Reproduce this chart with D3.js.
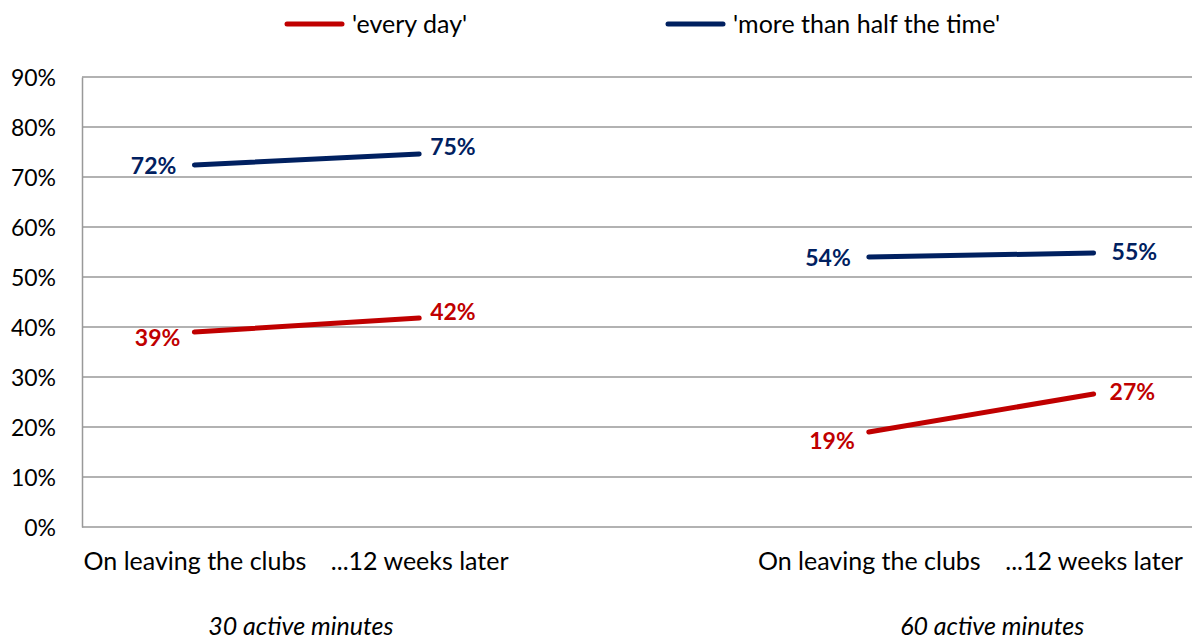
<!DOCTYPE html>
<html><head><meta charset="utf-8">
<script src="https://cdn.jsdelivr.net/npm/d3@7"></script>
<style>
html,body{margin:0;padding:0;background:#fff;}
svg{display:block;font-family:Lato,"Open Sans",sans-serif;}
</style></head>
<body><svg id="c" width="1192" height="639"></svg>
<script>
// ---- data ----
const categories = ["On leaving the clubs", "...12 weeks later", "", "On leaving the clubs", "...12 weeks later"];
const groups = ["30 active minutes", "60 active minutes"];
const seriesNames = ["'every day'", "'more than half the time'"];
// each series: [group1 start, group1 end, group2 start, group2 end]
const everyDay = [39.0, 41.8, 19.0, 26.6];
const moreThanHalf = [72.4, 74.6, 54.0, 54.8];
const yTicks = [0, 10, 20, 30, 40, 50, 60, 70, 80, 90];
const seriesColors = ["#C00000", "#002060"];

(function(){
// ---- layout ----
const svg = d3.select("#c");
const mLeft = 82, mTop = 77, mBottom = 527;
const x = d3.scalePoint().domain(d3.range(categories.length)).range([mLeft, 1206]).padding(0.5);
const y = d3.scaleLinear().domain([0, 90]).range([mBottom, mTop]);
const fs = 23, fsText = 25;

// gridlines
svg.append("g").selectAll("line").data(yTicks).join("line")
  .attr("x1", mLeft).attr("x2", 1192)
  .attr("y1", d => y(d)).attr("y2", d => y(d))
  .attr("stroke", "#999").attr("stroke-width", 1.5);

// y axis
const yAxis = d3.axisLeft(y).tickValues(yTicks).tickSize(0).tickPadding(0).tickFormat(d => d + "%");
const ya = svg.append("g").attr("transform", `translate(${mLeft},0)`).call(yAxis);
ya.select(".domain").attr("stroke", "#999").attr("stroke-width", 1.5);
ya.selectAll("text").attr("x", -26).attr("dy", "0.35em").attr("font-size", fs)
  .attr("font-family", "Lato").attr("fill", "#000");

// x axis labels
const xAxis = d3.axisBottom(x).tickSize(0).tickFormat(i => categories[i]);
const xa = svg.append("g").attr("transform", `translate(0,${mBottom})`).call(xAxis);
xa.select(".domain").remove();
xa.selectAll("text").attr("y", 25).attr("dy", "0.71em").attr("font-size", fsText)
  .attr("font-family", "Lato").attr("fill", "#000");

// group labels
const groupIdx = [[0, 1], [3, 4]];
const groupShift = [-6, 11];
svg.append("g").selectAll("text").data(groups).join("text")
  .attr("x", (d, i) => (x(groupIdx[i][0]) + x(groupIdx[i][1])) / 2 + groupShift[i])
  .attr("y", 635).attr("text-anchor", "middle").attr("font-style", "italic")
  .attr("font-size", fsText).attr("fill", "#000").text(d => d);

// series lines
const allSeries = [everyDay, moreThanHalf];
const catIdx = [0, 1, 3, 4];
const fmt = d3.format(".0f");
const leftOff = [[{dx: -14, dy: 14}, {dx: -14, dy: 17}], [{dx: -18, dy: 9}, {dx: -18, dy: 9}]];
const rightOff = [[{dx: 11, dy: 2}, {dx: 16, dy: 6}], [{dx: 11, dy: 1}, {dx: 18, dy: 7}]];
allSeries.forEach((vals, s) => {
  const g = svg.append("g");
  [[0, 1], [2, 3]].forEach((pair, gi) => {
    const pts = pair.map(k => [x(catIdx[k]), y(vals[k])]);
    g.append("path").attr("d", d3.line()(pts)).attr("fill", "none")
      .attr("stroke", seriesColors[s]).attr("stroke-width", 5).attr("stroke-linecap", "round");
    g.append("text").attr("x", pts[0][0] + leftOff[s][gi].dx).attr("y", pts[0][1] + leftOff[s][gi].dy)
      .attr("text-anchor", "end").attr("font-weight", "bold").attr("font-size", fs)
      .attr("fill", seriesColors[s]).text(fmt(vals[pair[0]]) + "%");
    g.append("text").attr("x", pts[1][0] + rightOff[s][gi].dx).attr("y", pts[1][1] + rightOff[s][gi].dy)
      .attr("text-anchor", "start").attr("font-weight", "bold").attr("font-size", fs)
      .attr("fill", seriesColors[s]).text(fmt(vals[pair[1]]) + "%");
  });
});

// legend
const legX = [287, 668];
const lg = svg.append("g").selectAll("g").data(seriesNames).join("g")
  .attr("transform", (d, i) => `translate(${legX[i]},24)`);
lg.append("line").attr("x1", 0).attr("x2", 55).attr("stroke", (d, i) => seriesColors[i])
  .attr("stroke-width", 5).attr("stroke-linecap", "round");
lg.append("text").attr("x", 65).attr("dy", "0.35em").attr("font-size", fsText).attr("fill", "#000").text(d => d);
})();
</script></body></html>
